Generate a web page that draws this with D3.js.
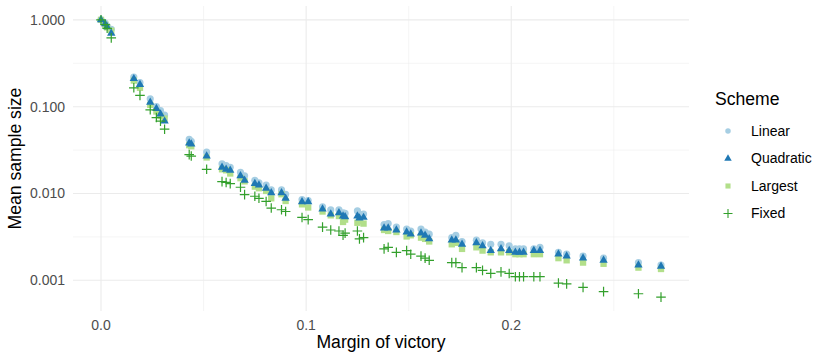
<!DOCTYPE html>
<html><head><meta charset="utf-8">
<script src="https://cdn.jsdelivr.net/npm/d3@7"></script>
<style>body{margin:0;background:#fff}svg{display:block}text{font-family:"Liberation Sans",Arial,Helvetica,sans-serif}</style>
</head><body>
<svg id="c" width="830" height="362"></svg>
<script>
const margins = [0.000,0.002,0.003,0.005,0.016,0.019,0.024,0.027,0.029,0.031,0.043,0.044,0.0515,0.059,0.061,0.063,0.068,0.070,0.075,0.077,0.0805,0.083,0.088,0.090,0.098,0.101,0.108,0.112,0.116,0.118,0.119,0.125,0.126,0.128,0.138,0.140,0.144,0.149,0.151,0.156,0.158,0.160,0.171,0.173,0.176,0.183,0.186,0.190,0.195,0.199,0.202,0.204,0.206,0.211,0.214,0.223,0.227,0.235,0.245,0.262,0.273];
const linear = [1.0,0.92,0.85,0.78,0.22,0.19,0.123,0.10,0.09,0.080,0.042,0.040,0.030,0.022,0.021,0.020,0.0175,0.016,0.0142,0.0133,0.0125,0.011,0.011,0.0098,0.0085,0.0083,0.0070,0.0065,0.0065,0.0060,0.0059,0.0063,0.0058,0.0058,0.0044,0.0045,0.0041,0.0039,0.0037,0.0039,0.0036,0.0034,0.0031,0.0033,0.0028,0.0029,0.0027,0.0026,0.0026,0.0025,0.0023,0.0023,0.0023,0.0023,0.0024,0.0021,0.0020,0.0019,0.0018,0.0016,0.0015];
const quadratic = [1.0,0.90,0.83,0.70,0.21,0.18,0.112,0.095,0.082,0.068,0.038,0.037,0.027,0.020,0.019,0.0185,0.016,0.0142,0.013,0.0125,0.0115,0.0102,0.0102,0.0088,0.0080,0.0080,0.0066,0.0058,0.0060,0.0055,0.0054,0.0055,0.0052,0.0053,0.0040,0.0040,0.0038,0.0036,0.0034,0.0035,0.0033,0.0030,0.0029,0.0029,0.0026,0.0027,0.0025,0.0022,0.0023,0.0022,0.0021,0.0021,0.0021,0.0022,0.0022,0.0020,0.0019,0.0018,0.0017,0.0015,0.00145];
const largest = [1.0,0.88,0.82,0.75,0.20,0.165,0.105,0.088,0.078,0.073,0.036,0.035,0.026,0.019,0.0185,0.017,0.015,0.0138,0.012,0.0115,0.0107,0.0088,0.0098,0.0082,0.0075,0.0069,0.0062,0.0056,0.0055,0.0047,0.0050,0.0046,0.0048,0.0045,0.0038,0.0037,0.0036,0.0032,0.0033,0.0031,0.0030,0.0028,0.0026,0.0027,0.0023,0.0024,0.0022,0.0021,0.0021,0.0021,0.0020,0.0020,0.0020,0.0020,0.0020,0.0018,0.0017,0.0016,0.00155,0.0014,0.00135];
const fixed = [1.0,0.88,0.80,0.62,0.165,0.135,0.092,0.075,0.068,0.055,0.028,0.027,0.019,0.0137,0.0134,0.013,0.0118,0.0097,0.0093,0.0088,0.0081,0.0068,0.0065,0.0062,0.0053,0.0050,0.0041,0.0038,0.0037,0.0033,0.0035,0.0037,0.0030,0.0031,0.0023,0.0024,0.0021,0.0022,0.0020,0.0019,0.0018,0.0017,0.0016,0.0016,0.0014,0.0014,0.0013,0.0012,0.00125,0.0012,0.0011,0.0011,0.0011,0.0011,0.0011,0.00093,0.00091,0.00083,0.00074,0.00070,0.00064];
const schemes = ["Linear","Quadratic","Largest","Fixed"];
const colors = ["#A6CEE3","#1F78B4","#B2DF8A","#33A02C"];
const xTicks = [0, 0.1, 0.2];
const xTickLabels = ["0.0","0.1","0.2"];
const yTicks = [1, 0.1, 0.01, 0.001];
const yTickLabels = ["1.000","0.100","0.010","0.001"];

const seriesValues = [linear, quadratic, largest, fixed];
const svg = d3.select("#c");
const L = 73, R = 689, T = 6, B = 311;

const xmin = d3.min(margins), xmax = d3.max(margins), xp = 0.05*(xmax-xmin);
const x = d3.scaleLinear().domain([xmin-xp, xmax+xp]).range([L, R]);
const allY = seriesValues.flat();
const lmin = Math.log10(d3.min(allY)), lmax = Math.log10(d3.max(allY)), lp = 0.05*(lmax-lmin);
const y = d3.scaleLog().domain([Math.pow(10,lmin-lp), Math.pow(10,lmax+lp)]).range([B, T]);

const grid = svg.append("g");
const xMinor = [0.05, 0.15, 0.25];
const yMinor = [Math.pow(10,-0.5), Math.pow(10,-1.5), Math.pow(10,-2.5)];
grid.selectAll(".xm").data(xMinor).join("line").attr("x1",d=>x(d)).attr("x2",d=>x(d)).attr("y1",T).attr("y2",B).attr("stroke","#EBEBEB").attr("stroke-width",0.55);
grid.selectAll(".ym").data(yMinor).join("line").attr("y1",d=>y(d)).attr("y2",d=>y(d)).attr("x1",L).attr("x2",R).attr("stroke","#EBEBEB").attr("stroke-width",0.55);
grid.selectAll(".xM").data(xTicks).join("line").attr("x1",d=>x(d)).attr("x2",d=>x(d)).attr("y1",T).attr("y2",B).attr("stroke","#EBEBEB").attr("stroke-width",1.1);
grid.selectAll(".yM").data(yTicks).join("line").attr("y1",d=>y(d)).attr("y2",d=>y(d)).attr("x1",L).attr("x2",R).attr("stroke","#EBEBEB").attr("stroke-width",1.1);

svg.append("g").selectAll("text").data(yTicks).join("text")
  .attr("x",65).attr("y",d=>y(d)).attr("dy","0.35em").attr("text-anchor","end")
  .attr("font-size","14px").attr("fill","#4D4D4D").text((d,i)=>yTickLabels[i]);
svg.append("g").selectAll("text").data(xTicks).join("text")
  .attr("x",d=>x(d)).attr("y",B+14).attr("dy","0.35em").attr("text-anchor","middle")
  .attr("font-size","14px").attr("fill","#4D4D4D").text((d,i)=>xTickLabels[i]);

svg.append("text").attr("x",(L+R)/2).attr("y",348).attr("text-anchor","middle").attr("font-size","17.6px").attr("fill","#000").text("Margin of victory");
svg.append("text").attr("transform",`translate(21,${(T+B)/2}) rotate(-90)`).attr("text-anchor","middle").attr("font-size","17.6px").attr("fill","#000").text("Mean sample size");

function plusPath(h){ return `M${-h},0H${h}M0,${-h}V${h}`; }
const symGen = [
  d3.symbol().type(d3.symbolCircle).size(40),
  d3.symbol().type(d3.symbolTriangle).size(30),
  d3.symbol().type(d3.symbolSquare).size(40),
  null
];
const symLeg = [
  d3.symbol().type(d3.symbolCircle).size(24),
  d3.symbol().type(d3.symbolTriangle).size(24),
  d3.symbol().type(d3.symbolSquare).size(26),
  null
];

const drawOrder = [0, 2, 1, 3];
const pts = svg.append("g");
drawOrder.forEach(si => {
  const g = pts.append("g");
  const data = margins.map((m,i)=>({x:m, y:seriesValues[si][i]}));
  const sel = g.selectAll("path").data(data).join("path")
    .attr("transform", d=>`translate(${x(d.x)},${y(d.y)})`);
  if (si === 3) {
    sel.attr("d", plusPath(4.8)).attr("fill","none").attr("stroke",colors[si]).attr("stroke-width",1.2);
  } else {
    sel.attr("d", symGen[si]()).attr("fill",colors[si]);
  }
});

const leg = svg.append("g");
leg.append("text").attr("x",715).attr("y",105).attr("font-size","17.6px").attr("fill","#000").text("Scheme");
const ly = [131, 158.5, 186, 213.5];
schemes.forEach((s,i)=>{
  const p = leg.append("path").attr("transform",`translate(728,${ly[i]})`);
  if (i===3) p.attr("d",plusPath(4.5)).attr("fill","none").attr("stroke",colors[i]).attr("stroke-width",1.1);
  else p.attr("d",symLeg[i]()).attr("fill",colors[i]);
  leg.append("text").attr("x",751).attr("y",ly[i]).attr("dy","0.35em").attr("font-size","14px").attr("fill","#000").text(s);
});
</script>
</body></html>
